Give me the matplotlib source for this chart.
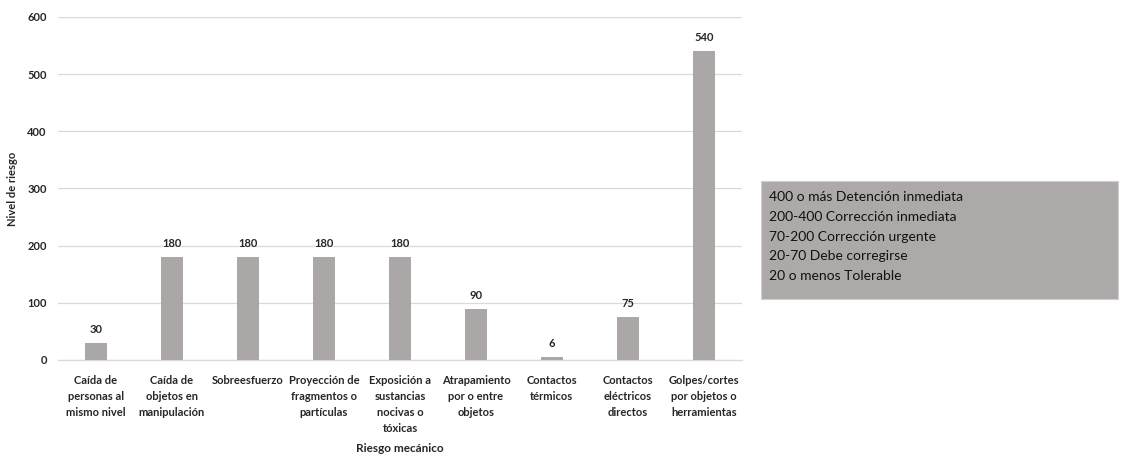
import matplotlib
matplotlib.use("Agg")
import matplotlib.pyplot as plt
from matplotlib.patches import Rectangle

categories = [
    "Caída de\npersonas al\nmismo nivel",
    "Caída de\nobjetos en\nmanipulación",
    "Sobreesfuerzo",
    "Proyección de\nfragmentos o\npartículas",
    "Exposición a\nsustancias\nnocivas o\ntóxicas",
    "Atrapamiento\npor o entre\nobjetos",
    "Contactos\ntérmicos",
    "Contactos\neléctricos\ndirectos",
    "Golpes/cortes\npor objetos o\nherramientas",
]
values = [30, 180, 180, 180, 180, 90, 6, 75, 540]
y_ticks = [0, 100, 200, 300, 400, 500, 600]
scale_lines = [
    "400 o más Detención inmediata",
    "200-400 Corrección inmediata",
    "70-200 Corrección urgente",
    "20-70 Debe corregirse",
    "20 o menos Tolerable",
]

plt.rcParams["font.family"] = ["Lato", "DejaVu Sans"]

fig = plt.figure(figsize=(11.24, 4.58), dpi=100)
ax = fig.add_axes([0.0516, 0.214, 0.6085, 0.749])

bar_color = "#ABA7A6"
text_color = "#262626"
x = list(range(len(categories)))
ax.bar(x, values, width=0.3, color=bar_color, zorder=3)
for xi, v in zip(x, values):
    ax.text(xi, v + 14, str(v), ha="center", va="bottom", fontsize=8,
            fontweight="bold", color=text_color)

ax.set_xlim(-0.5, len(categories) - 0.5)
ax.set_ylim(0, 600)
ax.set_yticks(y_ticks)
ax.set_yticklabels([str(t) for t in y_ticks], fontsize=8, fontweight="bold", color=text_color)
ax.set_xticks(x)
ax.set_xticklabels(categories, fontsize=8, fontweight="bold", color=text_color,
                   linespacing=1.55, va="top")
ax.tick_params(axis="x", length=0, pad=11)
ax.tick_params(axis="y", length=0, pad=8)
ax.grid(axis="y", color="#D9D9D9", linewidth=0.9, zorder=0)
for s in ["top", "right", "left"]:
    ax.spines[s].set_visible(False)
ax.spines["bottom"].set_color("#D9D9D9")
ax.spines["bottom"].set_linewidth(0.9)

ax.set_ylabel("Nivel de riesgo", fontsize=8, fontweight="bold", color=text_color)
ax.yaxis.set_label_coords(-0.058, 0.5)
fig.text(0.356, 0.02, "Riesgo mecánico", ha="center", va="center", fontsize=8.5,
         fontweight="bold", color=text_color)

# Risk-level scale box
box_x0, box_y0 = 761 / 1124, 1 - 299 / 458
box_w, box_h = (1118 - 761) / 1124, (299 - 181) / 458
fig.patches.append(Rectangle((box_x0, box_y0), box_w, box_h, transform=fig.transFigure,
                             facecolor="#ADA9A8", edgecolor="#CFCFCF", linewidth=0.8))
for i, txt in enumerate(scale_lines):
    ly = 197 + 19.8 * i
    fig.text(769 / 1124, 1 - ly / 458, txt, ha="left", va="center", fontsize=10, color="#111111")

fig.savefig("out.png", dpi=100)
